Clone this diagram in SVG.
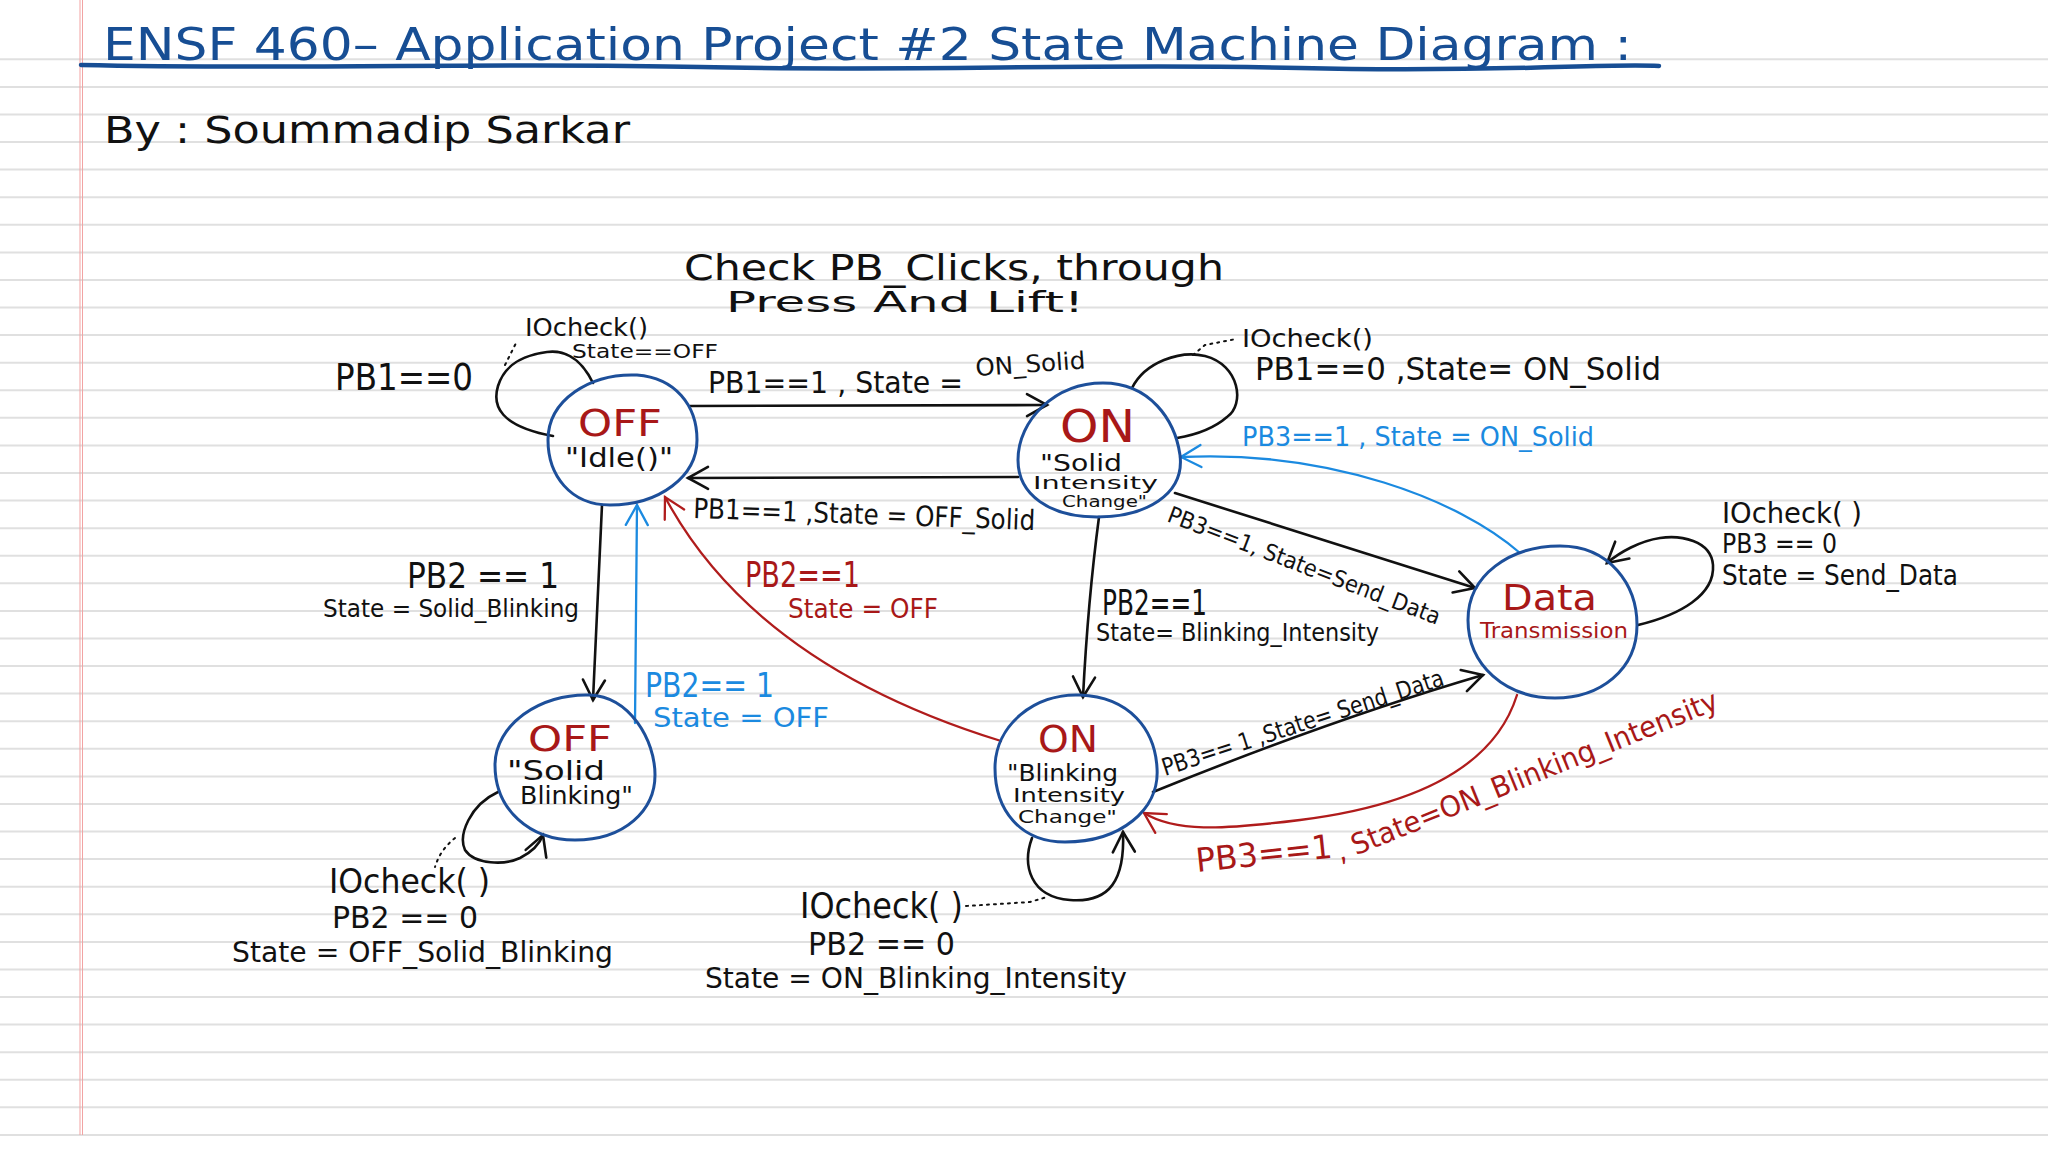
<svg xmlns="http://www.w3.org/2000/svg" width="2048" height="1171" viewBox="0 0 2048 1171">
<style>
text{font-family:"DejaVu Sans","Liberation Sans",sans-serif;fill:#111}
.r{fill:#a81818}
.lb{fill:#1b8ae0}
.tb{fill:#174e94}
.node{fill:none;stroke:#1d4f9a;stroke-width:3}
.ck{fill:none;stroke:#111;stroke-width:2.6;stroke-linecap:round}
.cr{fill:none;stroke:#b01c1c;stroke-width:2.3;stroke-linecap:round}
.cb{fill:none;stroke:#1b8ae0;stroke-width:2.3;stroke-linecap:round}
.dot{fill:none;stroke:#111;stroke-width:2;stroke-dasharray:2 5;stroke-linecap:round}
.rule{stroke:#e0e0e0;stroke-width:2}
</style>
<defs>
<marker id="ak" markerUnits="userSpaceOnUse" markerWidth="30" markerHeight="30" viewBox="-25 -15 30 30" refX="0" refY="0" orient="auto"><path d="M-20,-11 L0,0 L-20,11" fill="none" stroke="#111" stroke-width="2.6" stroke-linecap="round"/></marker>
<marker id="ar" markerUnits="userSpaceOnUse" markerWidth="30" markerHeight="30" viewBox="-25 -15 30 30" refX="0" refY="0" orient="auto"><path d="M-20,-11 L0,0 L-20,11" fill="none" stroke="#b01c1c" stroke-width="2.3" stroke-linecap="round"/></marker>
<marker id="ab" markerUnits="userSpaceOnUse" markerWidth="30" markerHeight="30" viewBox="-25 -15 30 30" refX="0" refY="0" orient="auto"><path d="M-20,-11 L0,0 L-20,11" fill="none" stroke="#1b8ae0" stroke-width="2.3" stroke-linecap="round"/></marker>
</defs>
<rect width="2048" height="1171" fill="#fff"/>
<g id="paper">
<line class="rule" x1="0" x2="2048" y1="59.3" y2="59.3"/><line class="rule" x1="0" x2="2048" y1="86.9" y2="86.9"/><line class="rule" x1="0" x2="2048" y1="114.5" y2="114.5"/><line class="rule" x1="0" x2="2048" y1="142" y2="142"/><line class="rule" x1="0" x2="2048" y1="169.6" y2="169.6"/><line class="rule" x1="0" x2="2048" y1="197.2" y2="197.2"/><line class="rule" x1="0" x2="2048" y1="224.8" y2="224.8"/><line class="rule" x1="0" x2="2048" y1="252.4" y2="252.4"/><line class="rule" x1="0" x2="2048" y1="279.9" y2="279.9"/><line class="rule" x1="0" x2="2048" y1="307.5" y2="307.5"/><line class="rule" x1="0" x2="2048" y1="335.1" y2="335.1"/><line class="rule" x1="0" x2="2048" y1="362.7" y2="362.7"/><line class="rule" x1="0" x2="2048" y1="390.3" y2="390.3"/><line class="rule" x1="0" x2="2048" y1="417.8" y2="417.8"/><line class="rule" x1="0" x2="2048" y1="445.4" y2="445.4"/><line class="rule" x1="0" x2="2048" y1="473" y2="473"/><line class="rule" x1="0" x2="2048" y1="500.6" y2="500.6"/><line class="rule" x1="0" x2="2048" y1="528.2" y2="528.2"/><line class="rule" x1="0" x2="2048" y1="555.7" y2="555.7"/><line class="rule" x1="0" x2="2048" y1="583.3" y2="583.3"/><line class="rule" x1="0" x2="2048" y1="610.9" y2="610.9"/><line class="rule" x1="0" x2="2048" y1="638.5" y2="638.5"/><line class="rule" x1="0" x2="2048" y1="666.1" y2="666.1"/><line class="rule" x1="0" x2="2048" y1="693.6" y2="693.6"/><line class="rule" x1="0" x2="2048" y1="721.2" y2="721.2"/><line class="rule" x1="0" x2="2048" y1="748.8" y2="748.8"/><line class="rule" x1="0" x2="2048" y1="776.4" y2="776.4"/><line class="rule" x1="0" x2="2048" y1="804" y2="804"/><line class="rule" x1="0" x2="2048" y1="831.5" y2="831.5"/><line class="rule" x1="0" x2="2048" y1="859.1" y2="859.1"/><line class="rule" x1="0" x2="2048" y1="886.7" y2="886.7"/><line class="rule" x1="0" x2="2048" y1="914.3" y2="914.3"/><line class="rule" x1="0" x2="2048" y1="941.9" y2="941.9"/><line class="rule" x1="0" x2="2048" y1="969.4" y2="969.4"/><line class="rule" x1="0" x2="2048" y1="997" y2="997"/><line class="rule" x1="0" x2="2048" y1="1024.6" y2="1024.6"/><line class="rule" x1="0" x2="2048" y1="1052.2" y2="1052.2"/><line class="rule" x1="0" x2="2048" y1="1079.8" y2="1079.8"/><line class="rule" x1="0" x2="2048" y1="1107.3" y2="1107.3"/><line class="rule" x1="0" x2="2048" y1="1134.9" y2="1134.9"/>
<line x1="80" y1="0" x2="80" y2="1135" stroke="#f2a3a3" stroke-width="1"/>
<line x1="82.5" y1="0" x2="82.5" y2="1135" stroke="#f2a3a3" stroke-width="1"/>
</g>
<g id="header">
<text class="tb" x="103" y="60" font-size="45" textLength="1529" lengthAdjust="spacingAndGlyphs">ENSF 460– Application Project #2 State Machine Diagram :</text>
<path d="M81,65 C300,70 500,62 700,67 S1100,63 1300,68 S1600,63 1659,66" fill="none" stroke="#174e94" stroke-width="4.5" stroke-linecap="round"/>
<text x="104" y="143" font-size="38" textLength="526" lengthAdjust="spacingAndGlyphs">By : Soummadip Sarkar</text>
<text x="684" y="280" font-size="35" textLength="540" lengthAdjust="spacingAndGlyphs">Check PB_Clicks, through</text>
<text x="726" y="312" font-size="29" textLength="358" lengthAdjust="spacingAndGlyphs">Press And Lift!</text>
</g>
<g id="connectors">
<line class="ck" x1="690" y1="406" x2="1047" y2="405" marker-end="url(#ak)"/>
<line class="ck" x1="1018" y1="477" x2="688" y2="478" marker-end="url(#ak)"/>
<path class="ck" d="M593,383 C580,356 562,350 547,352 C525,355 505,363 498,386 C492,406 500,426 553,436"/>
<path class="dot" d="M505,365 L517,341"/>
<line class="ck" x1="602" y1="505" x2="593" y2="700" marker-end="url(#ak)"/>
<line class="cb" x1="635" y1="723" x2="637" y2="505" marker-end="url(#ab)"/>
<path class="cr" d="M1001,741 Q755,665 665,497" marker-end="url(#ar)"/>
<path class="ck" d="M1132,388 C1145,362 1180,350 1205,356 C1240,365 1245,405 1227,417 C1212,430 1195,435 1177,438"/>
<path class="dot" d="M1193,355 L1205,345 L1236,339"/>
<path class="cb" d="M1520,553 C1460,500 1330,450 1181,457" marker-end="url(#ab)"/>
<line class="ck" x1="1175" y1="493" x2="1475" y2="588" marker-end="url(#ak)"/>
<path class="ck" d="M1099,517 Q1088,600 1083,697" marker-end="url(#ak)"/>
<path class="ck" d="M1638,625 C1680,615 1715,595 1713,565 C1711,540 1680,535 1660,538 C1640,541 1620,552 1607,563" marker-end="url(#ak)"/>
<path class="ck" d="M1153,792 Q1330,720 1483,675" marker-end="url(#ak)"/>
<path class="cr" d="M1517,695 C1495,765 1420,805 1300,820 C1220,830 1175,832 1144,813" marker-end="url(#ar)"/>
<path class="ck" d="M498,792 C470,805 458,835 465,850 C475,865 505,865 520,858 C532,852 540,843 543,835" marker-end="url(#ak)"/>
<path class="dot" d="M455,838 Q440,850 435,867"/>
<path class="ck" d="M1032,838 C1022,865 1030,897 1070,900 C1110,903 1125,880 1123,832" marker-end="url(#ak)"/>
<path class="dot" d="M966,906 L1030,902 L1047,897"/>
</g>
<g id="node-off-idle">
<path class="node" d="M637,375 C675,378 697,405 697,440 C697,476 660,505 610,505 C570,505 548,475 548,440 C548,400 590,373 637,375 Z"/>
<text class="r" x="578" y="436" font-size="37" textLength="84" lengthAdjust="spacingAndGlyphs">OFF</text>
<text x="565" y="467" font-size="26" textLength="108" lengthAdjust="spacingAndGlyphs">"Idle()"</text>
</g>
<g id="node-on-solid">
<path class="node" d="M1103,383 C1150,383 1175,420 1180,455 C1185,495 1145,517 1097,517 C1050,517 1018,495 1018,460 C1018,420 1055,383 1103,383 Z"/>
<text class="r" x="1060" y="442" font-size="45" textLength="75" lengthAdjust="spacingAndGlyphs">ON</text>
<text x="1040" y="471" font-size="23" textLength="82" lengthAdjust="spacingAndGlyphs">"Solid</text>
<text x="1033" y="489" font-size="18" textLength="125" lengthAdjust="spacingAndGlyphs">Intensity</text>
<text x="1062" y="507" font-size="16" textLength="85" lengthAdjust="spacingAndGlyphs">Change"</text>
</g>
<g id="node-data">
<path class="node" d="M1560,546 C1610,546 1637,585 1637,625 C1637,670 1600,698 1555,698 C1505,698 1468,665 1468,620 C1468,575 1510,546 1560,546 Z"/>
<text class="r" x="1502" y="610" font-size="35" textLength="95" lengthAdjust="spacingAndGlyphs">Data</text>
<text class="r" x="1480" y="638" font-size="21" textLength="148" lengthAdjust="spacingAndGlyphs">Transmission</text>
</g>
<g id="node-off-blinking">
<path class="node" d="M590,695 C630,697 655,740 655,775 C655,810 625,840 575,840 C530,840 495,810 495,765 C495,725 540,693 590,695 Z"/>
<text class="r" x="528" y="751" font-size="36" textLength="84" lengthAdjust="spacingAndGlyphs">OFF</text>
<text x="507" y="780" font-size="26" textLength="98" lengthAdjust="spacingAndGlyphs">"Solid</text>
<text x="520" y="804" font-size="24" textLength="113" lengthAdjust="spacingAndGlyphs">Blinking"</text>
</g>
<g id="node-on-blinking">
<path class="node" d="M1080,695 C1130,697 1155,730 1157,768 C1160,810 1120,842 1065,842 C1020,842 995,810 995,768 C995,725 1035,693 1080,695 Z"/>
<text class="r" x="1038" y="752" font-size="38" textLength="60" lengthAdjust="spacingAndGlyphs">ON</text>
<text x="1007" y="781" font-size="23" textLength="111" lengthAdjust="spacingAndGlyphs">"Blinking</text>
<text x="1013" y="802" font-size="20" textLength="112" lengthAdjust="spacingAndGlyphs">Intensity</text>
<text x="1018" y="823" font-size="18" textLength="99" lengthAdjust="spacingAndGlyphs">Change"</text>
</g>
<g id="labels">
<text x="525" y="336" font-size="24" textLength="123" lengthAdjust="spacingAndGlyphs">IOcheck()</text>
<text x="572" y="358" font-size="20" textLength="146" lengthAdjust="spacingAndGlyphs">State==OFF</text>
<text x="335" y="390" font-size="37" textLength="138" lengthAdjust="spacingAndGlyphs">PB1==0</text>
<text x="708" y="393" font-size="30" textLength="255" lengthAdjust="spacingAndGlyphs">PB1==1 , State =</text>
<text x="976" y="376" font-size="24" textLength="110" lengthAdjust="spacingAndGlyphs" transform="rotate(-4 976 376)">ON_Solid</text>
<text x="693" y="518" font-size="28" textLength="342" lengthAdjust="spacingAndGlyphs" transform="rotate(2 693 518)">PB1==1 ,State = OFF_Solid</text>
<text x="1242" y="347" font-size="25" textLength="131" lengthAdjust="spacingAndGlyphs">IOcheck()</text>
<text x="1255" y="380" font-size="32" textLength="406" lengthAdjust="spacingAndGlyphs">PB1==0 ,State= ON_Solid</text>
<text class="lb" x="1242" y="446" font-size="27" textLength="352" lengthAdjust="spacingAndGlyphs">PB3==1 , State = ON_Solid</text>
<text x="1166" y="521" font-size="23" textLength="290" lengthAdjust="spacingAndGlyphs" transform="rotate(21 1166 521)">PB3==1, State=Send_Data</text>
<text x="1722" y="523" font-size="29" textLength="140" lengthAdjust="spacingAndGlyphs">IOcheck( )</text>
<text x="1722" y="553" font-size="27" textLength="115" lengthAdjust="spacingAndGlyphs">PB3 == 0</text>
<text x="1722" y="585" font-size="28" textLength="236" lengthAdjust="spacingAndGlyphs">State = Send_Data</text>
<text x="1102" y="615" font-size="35" textLength="105" lengthAdjust="spacingAndGlyphs">PB2==1</text>
<text x="1096" y="641" font-size="24" textLength="283" lengthAdjust="spacingAndGlyphs">State= Blinking_Intensity</text>
<text x="407" y="588" font-size="36" textLength="152" lengthAdjust="spacingAndGlyphs">PB2 == 1</text>
<text x="323" y="617" font-size="25" textLength="256" lengthAdjust="spacingAndGlyphs">State = Solid_Blinking</text>
<text class="r" x="745" y="587" font-size="35" textLength="115" lengthAdjust="spacingAndGlyphs">PB2==1</text>
<text class="r" x="788" y="618" font-size="26" textLength="150" lengthAdjust="spacingAndGlyphs">State = OFF</text>
<text class="lb" x="645" y="697" font-size="33" textLength="129" lengthAdjust="spacingAndGlyphs">PB2== 1</text>
<text class="lb" x="653" y="727" font-size="26" textLength="176" lengthAdjust="spacingAndGlyphs">State =  OFF</text>
<text x="329" y="893" font-size="34" textLength="161" lengthAdjust="spacingAndGlyphs">IOcheck( )</text>
<text x="332" y="928" font-size="31" textLength="146" lengthAdjust="spacingAndGlyphs">PB2 == 0</text>
<text x="232" y="962" font-size="29" textLength="381" lengthAdjust="spacingAndGlyphs">State = OFF_Solid_Blinking</text>
<text x="800" y="918" font-size="35" textLength="163" lengthAdjust="spacingAndGlyphs">IOcheck( )</text>
<text x="808" y="955" font-size="32" textLength="147" lengthAdjust="spacingAndGlyphs">PB2 == 0</text>
<text x="705" y="988" font-size="29" textLength="422" lengthAdjust="spacingAndGlyphs">State = ON_Blinking_Intensity</text>
<text x="1165" y="776" font-size="24" textLength="295" lengthAdjust="spacingAndGlyphs" transform="rotate(-18 1165 776)">PB3== 1 ,State= Send_Data</text>
<text class="r" x="1197" y="872" font-size="33" textLength="137" lengthAdjust="spacingAndGlyphs" transform="rotate(-6 1197 872)">PB3==1</text>
<text class="r" x="1340" y="862" font-size="29" textLength="410" lengthAdjust="spacingAndGlyphs" transform="rotate(-22 1340 862)">, State=ON_Blinking_Intensity</text>
</g>
</svg>
